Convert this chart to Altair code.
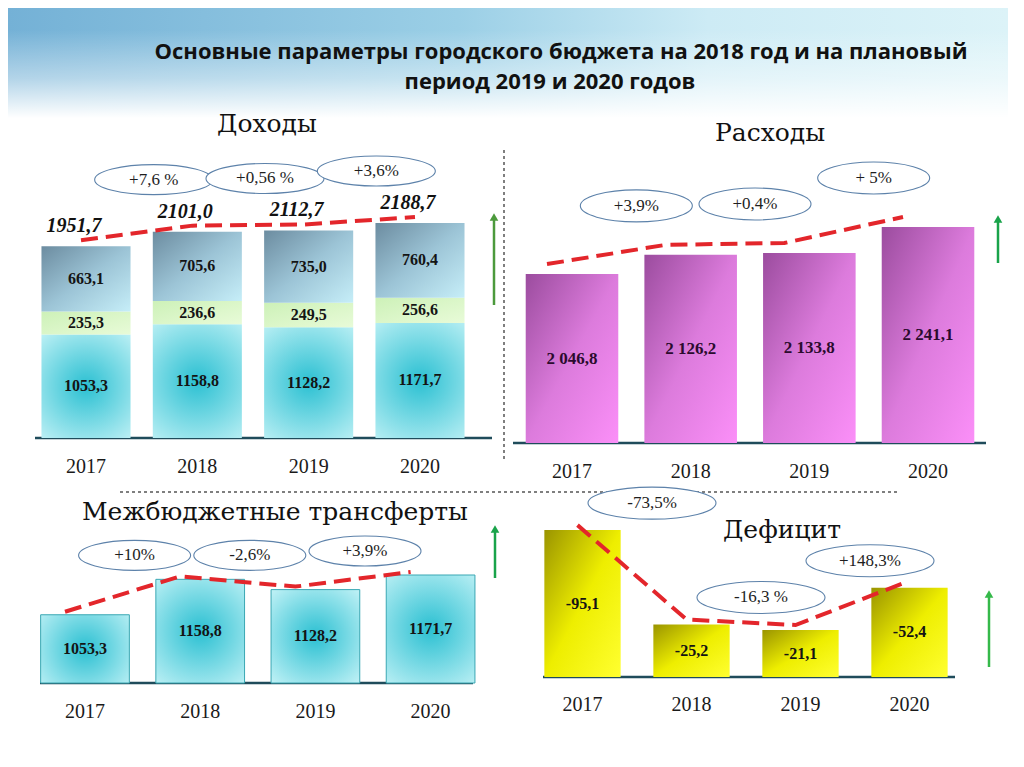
import altair as alt
import pandas as pd

# ---------------- data ----------------
years = [2017, 2018, 2019, 2020]
income_tax = [663.1, 705.6, 735.0, 760.4]            # top segment
income_nontax = [235.3, 236.6, 249.5, 256.6]         # middle segment
income_transfers = [1053.3, 1158.8, 1128.2, 1171.7]  # bottom segment
income_total = [1951.7, 2101.0, 2112.7, 2188.7]
income_growth = ["+7,6 %", "+0,56 %", "+3,6%"]
expenses = [2046.8, 2126.2, 2133.8, 2241.1]
expenses_growth = ["+3,9%", "+0,4%", "+ 5%"]
transfers = [1053.3, 1158.8, 1128.2, 1171.7]
transfers_growth = ["+10%", "-2,6%", "+3,9%"]
deficit = [-95.1, -25.2, -21.1, -52.4]
deficit_growth = ["-73,5%", "-16,3 %", "+148,3%"]
title_lines = ["Основные параметры городского бюджета на 2018 год и на плановый",
               "период 2019 и 2020 годов"]
panel_titles = ["Доходы", "Расходы", "Межбюджетные трансферты", "Дефицит"]

# ---------------- layout / style ----------------
W, H = 1000, 740          # one view for the whole slide
OX, OY = 8, 8             # page position of the view origin
SERIF = "Liberation Serif"
TSERIF = "DejaVu Serif"
BASECOL = "#1f4c5b"
RED = "#e3262b"
one = pd.DataFrame({"k": [0]})


def px(v):
    return v - OX


def py(v):
    return v - OY


def xscale(center2017, per_year):
    d0 = 2017 - (center2017 - OX) / per_year
    return alt.Scale(domain=[d0, d0 + W / per_year], nice=False, zero=False)


def yscale(baseline, base, k):
    e0 = base - (OY + H - baseline) / k
    e1 = base + (baseline - OY) / k
    return alt.Scale(domain=[e0, e1], nice=False, zero=False)


def ru(v, sep=False):
    s = f"{v:,.1f}" if sep else f"{v:.1f}"
    return s.replace(",", " ").replace(".", ",")


def lin(c0, c1, mid=None):
    stops = [{"offset": 0, "color": c0}]
    if mid:
        stops.append({"offset": 0.5, "color": mid})
    stops.append({"offset": 1, "color": c1})
    return {"gradient": "linear", "x1": 0, "y1": 0, "x2": 1, "y2": 1, "stops": stops}


G_TAX = lin("#6c8ca0", "#c6eef8", "#9cc4d6")
G_NONTAX = lin("#cdf1b8", "#e8fbd8")
G_CYAN = {"gradient": "radial", "x1": 0.5, "y1": 0.5, "r1": 0, "x2": 0.5, "y2": 0.5, "r2": 0.75,
          "stops": [{"offset": 0, "color": "#2bc0d2"}, {"offset": 1, "color": "#cff6f9"}]}
G_PURPLE = lin("#9b4c9e", "#fb8ff8", "#dc7bdc")
G_YELLOW = lin("#9a9400", "#ffff30", "#eeee00")
G_HEAD = {"gradient": "linear", "x1": 0, "y1": 0, "x2": 1, "y2": 0,
          "stops": [{"offset": 0, "color": "#74b1d6"}, {"offset": 0.45, "color": "#9bcfe6"},
                    {"offset": 0.7, "color": "#cdebf5"}, {"offset": 1, "color": "#dcf3f8"}]}
G_FADE = {"gradient": "linear", "x1": 0, "y1": 0, "x2": 0, "y2": 1,
          "stops": [{"offset": 0, "color": "rgba(255,255,255,0)"},
                    {"offset": 0.55, "color": "rgba(255,255,255,0.45)"},
                    {"offset": 1, "color": "#ffffff"}]}


def X(f, xs):
    return alt.X(f, type="quantitative", scale=xs, axis=None)


def Y(f, ys):
    return alt.Y(f, type="quantitative", scale=ys, axis=None)


def bars(df, xs, ys, hw, color, stroke=None):
    kw = dict(color=color)
    if stroke:
        kw.update(stroke=stroke, strokeWidth=1)
    return (alt.Chart(df)
            .transform_calculate(xa=f"datum.year - {hw}", xb=f"datum.year + {hw}")
            .mark_bar(**kw)
            .encode(x=X("xa", xs), x2=alt.X2("xb"), y=Y("hi", ys), y2=alt.Y2("lo")))


def inner_labels(df, xs, ys, size, color="#141414"):
    return alt.Chart(df).mark_text(font=SERIF, fontSize=size, fontWeight="bold", color=color).encode(
        x=X("year", xs), y=Y("mid", ys), text="label:N")


def year_labels(base, xs, ys, dy):
    df = pd.DataFrame({"year": years, "lo": [base] * len(years)})
    return alt.Chart(df).mark_text(font=SERIF, fontSize=20, color="#1a1a1a", dy=dy).encode(
        x=X("year", xs), y=Y("lo", ys), text=alt.Text("year:Q", format="d"))


def trend(df, xs, ys, dx, dy):
    return alt.Chart(df).mark_line(color=RED, strokeWidth=4, strokeDash=[17, 8],
                                   xOffset=dx, yOffset=dy).encode(
        x=X("year", xs), y=Y("hi", ys))


def growth_df(vals, labels):
    rows = []
    for i, lab in enumerate(labels):
        rows.append({"xm": (years[i] + years[i + 1]) / 2, "ym": max(vals[i], vals[i + 1]), "label": lab})
    return pd.DataFrame(rows)


def ellipses(df, xs, ys, w, h, dx, dy, fs=17):
    a = h / w
    path = f"M -1 0 A 1 {a:.4f} 0 1 1 1 0 A 1 {a:.4f} 0 1 1 -1 0 Z"
    base = alt.Chart(df).encode(x=X("xm", xs), y=Y("ym", ys))
    e = base.mark_point(shape=path, size=w * w, filled=True, fill="white", stroke="#5d82aa",
                        strokeWidth=1.1, opacity=1, xOffset=dx, yOffset=dy)
    t = base.mark_text(font=SERIF, fontSize=fs, color="#1e1e1e", dx=dx, dy=dy).encode(text="label:N")
    return [e, t]


def txt(s, x, y, font, size, weight="normal", color="#111111"):
    return alt.Chart(pd.DataFrame({"t": [s]})).mark_text(
        font=font, fontSize=size, fontWeight=weight, color=color, align="center", baseline="middle"
    ).encode(x=alt.value(px(x)), y=alt.value(py(y)), text="t:N")


def hrule(x1, x2, y, color, width, dash=None):
    kw = dict(color=color, strokeWidth=width)
    if dash:
        kw["strokeDash"] = dash
    return alt.Chart(one).mark_rule(**kw).encode(x=alt.value(px(x1)), x2=alt.value(px(x2)), y=alt.value(py(y)))


def vrule(x, y1, y2, color, width, dash=None):
    kw = dict(color=color, strokeWidth=width)
    if dash:
        kw["strokeDash"] = dash
    return alt.Chart(one).mark_rule(**kw).encode(x=alt.value(px(x)), y=alt.value(py(y1)), y2=alt.value(py(y2)))


def arrow(x, y_top, y_bot, color):
    r = vrule(x, y_top + 6, y_bot, color, 2.5)
    head = alt.Chart(one).mark_point(shape="triangle-up", filled=True, size=75, color=color, opacity=1).encode(
        x=alt.value(px(x)), y=alt.value(py(y_top + 4)))
    return [r, head]


def simple_df(vals, base, sep=False, absval=False):
    rows = []
    for yr, v in zip(years, vals):
        hv = abs(v) if absval else v
        rows.append({"year": yr, "lo": base, "hi": hv, "mid": (hv + base) / 2, "label": ru(v, sep)})
    return pd.DataFrame(rows)


# ---------------- background & decorations ----------------
deco = alt.layer(
    alt.Chart(one).mark_rect(color=G_HEAD).encode(x=alt.value(0), x2=alt.value(W), y=alt.value(0), y2=alt.value(py(118))),
    alt.Chart(one).mark_rect(color=G_FADE).encode(x=alt.value(0), x2=alt.value(W), y=alt.value(py(30)), y2=alt.value(py(118))),
    txt(title_lines[0], 561, 52, "Open Sans", 22, "bold"),
    txt(title_lines[1], 550, 82, "Open Sans", 22, "bold"),
    vrule(504, 150, 462, "#555555", 1.5, [3, 3]),
    hrule(120, 900, 492, "#555555", 1.5, [3, 3]),
    hrule(35, 492, 438, BASECOL, 2.5),
    hrule(513, 986, 443, BASECOL, 2.5),
    hrule(40, 473, 683, BASECOL, 2.5),
    hrule(543, 955, 677, BASECOL, 2.5),
    *arrow(494, 213, 305, "#4c9a3c"),
    *arrow(998, 215, 263, "#19a34a"),
    *arrow(495, 525, 578, "#19a34a"),
    *arrow(989, 590, 667, "#35b94a"),
    txt(panel_titles[0], 267, 124, TSERIF, 25),
    txt(panel_titles[1], 770, 133, TSERIF, 25),
    txt(panel_titles[2], 275, 512, TSERIF, 25),
    txt(panel_titles[3], 782, 530, TSERIF, 25),
)

# ---------------- panel 1: Доходы ----------------
xs1 = xscale(86, 111.33)
ys1 = yscale(438, 0, 0.09822)
seg_rows = []
for i, yr in enumerate(years):
    lo = 0.0
    for name, vals in [("transfers", income_transfers), ("nontax", income_nontax), ("tax", income_tax)]:
        hi = lo + vals[i]
        seg_rows.append({"year": yr, "seg": name, "lo": lo, "hi": hi, "mid": (lo + hi) / 2, "label": ru(vals[i])})
        lo = hi
segs = pd.DataFrame(seg_rows)
tot = pd.DataFrame({"year": years, "hi": income_total, "label": [ru(v) for v in income_total]})
p1 = alt.layer(
    bars(segs[segs.seg == "transfers"], xs1, ys1, 0.4, G_CYAN),
    bars(segs[segs.seg == "nontax"], xs1, ys1, 0.4, G_NONTAX),
    bars(segs[segs.seg == "tax"], xs1, ys1, 0.4, G_TAX),
    inner_labels(segs, xs1, ys1, 16),
    year_labels(0, xs1, ys1, 29),
    trend(tot, xs1, ys1, -5, -6),
    alt.Chart(tot).mark_text(font=SERIF, fontSize=20, fontWeight="bold", fontStyle="italic", color="#111111",
                             dx=-12, dy=-20).encode(x=X("year", xs1), y=Y("hi", ys1), text="label:N"),
    *ellipses(growth_df(income_total, income_growth), xs1, ys1, 118, 30, 12, -52),
)

# ---------------- panel 2: Расходы ----------------
B2 = 1350
xs2 = xscale(572, 118.67)
ys2 = yscale(443, B2, 0.2424)
d2 = simple_df(expenses, B2, sep=True)
p2 = alt.layer(
    bars(d2, xs2, ys2, 0.39, G_PURPLE),
    inner_labels(d2, xs2, ys2, 17, "#2b0b2e"),
    year_labels(B2, xs2, ys2, 29),
    trend(d2, xs2, ys2, -25, -10),
    *ellipses(growth_df(expenses, expenses_growth), xs2, ys2, 112, 32, 5, -49),
)

# ---------------- panel 3: Межбюджетные трансферты ----------------
B3 = 850
xs3 = xscale(85, 115.2)
ys3 = yscale(683, B3, 0.3357)
d3 = simple_df(transfers, B3)
p3 = alt.layer(
    bars(d3, xs3, ys3, 0.385, G_CYAN, stroke="#3aa7b3"),
    inner_labels(d3, xs3, ys3, 16),
    year_labels(B3, xs3, ys3, 29),
    trend(d3, xs3, ys3, -20, -3),
    *ellipses(growth_df(transfers, transfers_growth), xs3, ys3, 112, 30, -8, -24),
)

# ---------------- panel 4: Дефицит ----------------
B4 = -13.7
xs4 = xscale(582.5, 109)
ys4 = yscale(677, B4, 1.35)
d4 = simple_df(deficit, B4, absval=True)
p4 = alt.layer(
    bars(d4, xs4, ys4, 0.35, G_YELLOW),
    inner_labels(d4, xs4, ys4, 16),
    year_labels(B4, xs4, ys4, 28),
    trend(d4, xs4, ys4, -5, -5),
    *ellipses(growth_df([abs(v) for v in deficit], deficit_growth), xs4, ys4, 128, 32, 15, -27),
)

chart = (alt.layer(deco, p1, p2, p3, p4)
         .resolve_scale(x="independent", y="independent")
         .properties(width=W, height=H, padding=0, background="white")
         .configure_view(stroke=None))

chart.save("out.html", embed_options={"renderer": "svg", "actions": False})
